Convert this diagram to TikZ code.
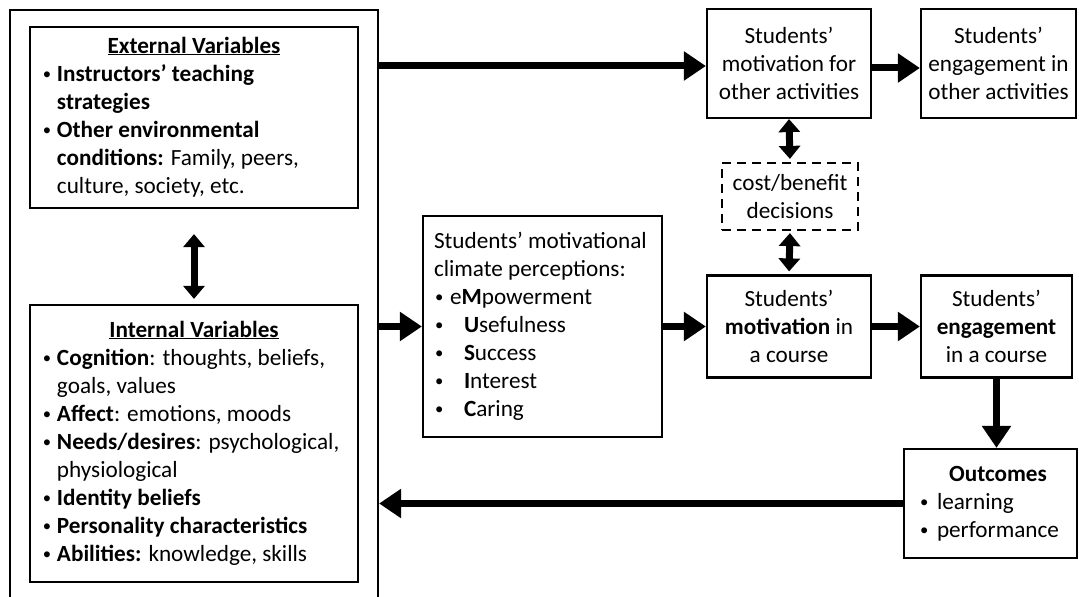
\documentclass[tikz,border=0pt]{standalone}
\usepackage{fontspec}
\setmainfont{Carlito}
\usepackage{array}
\usepackage{graphicx}
\usetikzlibrary{arrows.meta}
\newcommand{\smbul}{\hspace*{1bp}\raisebox{0.06em}{\scalebox{0.72}{•}}}
\newcommand{\bul}[2][15bp]{\mbox{\makebox[#1][l]{\smbul}#2}}
\newcommand{\cont}[2][15bp]{\mbox{\hspace*{#1}#2}}
\newcommand{\hdr}[1]{\makebox[\linewidth]{#1}}
\begin{document}
\begin{tikzpicture}[x=1bp,y=-1bp,
  font=\fontsize{23.2bp}{28bp}\selectfont,
  box/.style={draw, line width=2.2bp, inner sep=0pt},
  cbox/.style={box, align=center},
  arr/.style={line width=7bp, -{Triangle[length=22bp,width=28bp]}},
  darr/.style={line width=7bp, {Triangle[length=13bp,width=21bp]}-{Triangle[length=13bp,width=21bp]}}]
\clip (0,0) rectangle (1079,597);
\fill[white] (0,0) rectangle (1079,597);

\node[box, minimum width=368bp, minimum height=620bp] (outer) at (194,320) {};

\node[box, minimum width=328bp, minimum height=181bp] (ext) at (194,117.5) {%
\begin{tabular}{@{\hspace{12bp}}p{304bp}@{\hspace{12bp}}}
\hdr{\textbf{\underline{External Variables}}}\\
\bul{\textbf{Instructors’ teaching}}\\
\cont{\textbf{strategies}}\\
\bul{\textbf{Other environmental}}\\
\cont{\textbf{conditions:} Family, peers,}\\
\cont{culture, society, etc.}
\end{tabular}};

\node[box, minimum width=328bp, minimum height=277bp] (int) at (194,443.5) {%
\begin{tabular}{@{\hspace{12bp}}p{304bp}@{\hspace{12bp}}}
\hdr{\textbf{\underline{Internal Variables}}}\\
\bul{\textbf{Cognition}: thoughts, beliefs,}\\
\cont{goals, values}\\
\bul{\textbf{Affect}: emotions, moods}\\
\bul{\textbf{Needs/desires}: psychological,}\\
\cont{physiological}\\
\bul{\textbf{Identity beliefs}}\\
\bul{\textbf{Personality characteristics}}\\
\bul{\textbf{Abilities:} knowledge, skills}
\end{tabular}};

\node[box, minimum width=239bp, minimum height=221bp] (clim) at (542.5,326.5) {%
\begin{tabular}{@{\hspace{11bp}}p{228bp}@{}}
\mbox{Students’ motivational}\\
\mbox{climate perceptions:}\\
\bul[16bp]{e\textbf{M}powerment}\\
\bul[30bp]{\textbf{U}sefulness}\\
\bul[30bp]{\textbf{S}uccess}\\
\bul[30bp]{\textbf{I}nterest}\\
\bul[30bp]{\textbf{C}aring}
\end{tabular}};

\node[cbox, minimum width=164bp, minimum height=109bp] (mo) at (789,63.5) {Students’\\motivation for\\other activities};
\node[cbox, minimum width=155bp, minimum height=109bp] (eo) at (998.5,63.5) {Students’\\engagement in\\other activities};
\node[cbox, dash pattern=on 9bp off 6bp, minimum width=136bp, minimum height=67bp] (cb) at (790,196.5) {cost/benefit\\decisions};
\node[cbox, minimum width=164bp, minimum height=102bp] (mc) at (789,326.5) {Students’\\\textbf{motivation} in\\a course};
\node[cbox, minimum width=151bp, minimum height=102bp] (ec) at (996.5,326.5) {Students’\\\textbf{engagement}\\in a course};

\node[box, minimum width=173bp, minimum height=109bp] (oc) at (990.5,503.5) {%
\begin{tabular}{@{\hspace{15bp}}p{158bp}@{}}
\hdr{\textbf{Outcomes}}\\
\bul[18bp]{learning}\\
\bul[18bp]{performance}
\end{tabular}};

\coordinate (topy) at (0,66);
\coordinate (midy) at (0,68);
\draw[arr] (outer.east |- topy) -- (mo.west |- topy);
\draw[arr] (mo.east |- midy) -- (eo.west |- midy);
\draw[arr] (outer.east |- clim.west) -- (clim.west);
\draw[arr] (clim.east) -- (mc.west);
\draw[arr] (mc.east) -- (ec.west);
\draw[arr] (ec.south) -- (ec.south |- oc.north);
\draw[arr] (oc.west) -- (outer.east |- oc.west);
\draw[darr, shorten <=25bp, shorten >=5bp] (ext.south) -- (int.north);
\draw[darr, shorten >=3bp] (mo.south) -- (cb.north);
\draw[darr, shorten <=2bp, shorten >=3bp] (cb.south) -- (mc.north);
\end{tikzpicture}
\end{document}
